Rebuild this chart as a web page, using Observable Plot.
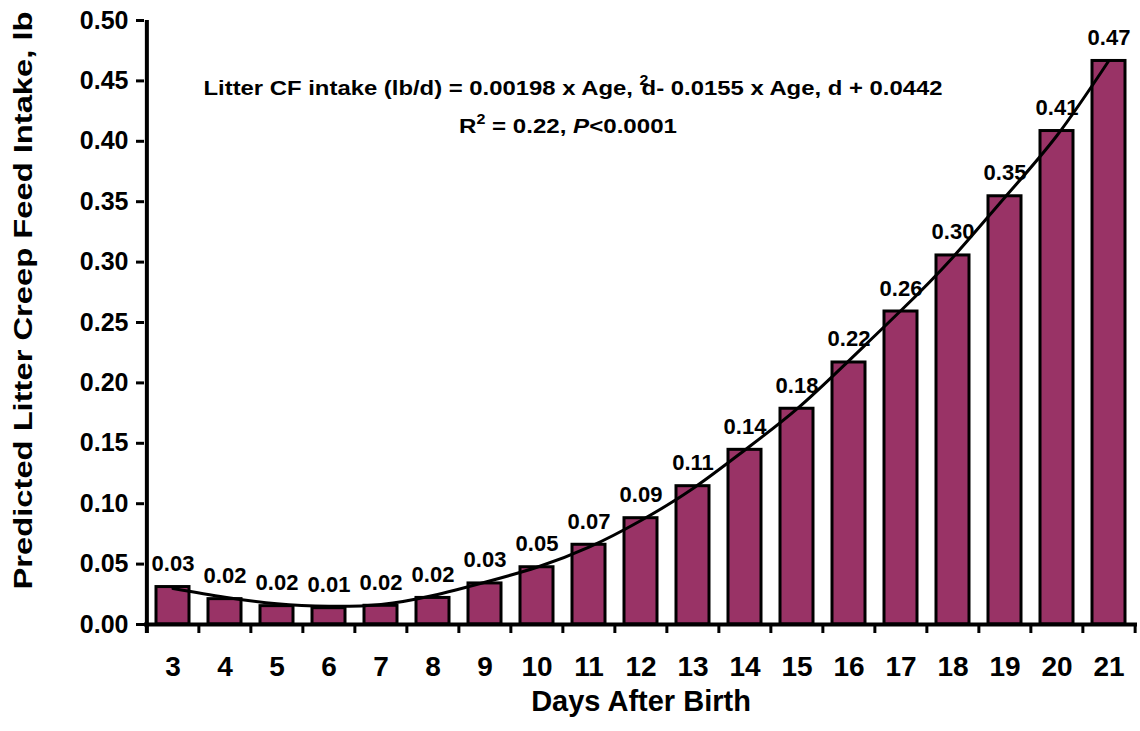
<!DOCTYPE html>
<html>
<head>
<meta charset="utf-8">
<script src="https://cdn.jsdelivr.net/npm/d3@7"></script>
<script src="https://cdn.jsdelivr.net/npm/@observablehq/plot@0.6"></script>
<style>
  html, body { margin: 0; padding: 0; background: #fff; }
  #chart svg { display: block; }
</style>
</head>
<body>
<div id="chart"></div>
<script>
// ---- data ----
const days = [3, 4, 5, 6, 7, 8, 9, 10, 11, 12, 13, 14, 15, 16, 17, 18, 19, 20, 21];
const intake = [0.031, 0.021, 0.0152, 0.0135, 0.0155, 0.022, 0.034, 0.0474, 0.066, 0.088, 0.1145, 0.1446, 0.1786, 0.2169, 0.2591, 0.3055, 0.3545, 0.4085, 0.4665];
const barLabels = ["0.03", "0.02", "0.02", "0.01", "0.02", "0.02", "0.03", "0.05", "0.07", "0.09", "0.11", "0.14", "0.18", "0.22", "0.26", "0.30", "0.35", "0.41", "0.47"];
const trend = [0.0298, 0.0226, 0.0171, 0.0151, 0.0166, 0.024, 0.035, 0.0474, 0.064, 0.0861, 0.1126, 0.1445, 0.1785, 0.2185, 0.2599, 0.3041, 0.3537, 0.4048, 0.4669];
const yTicks = [0, 0.05, 0.10, 0.15, 0.20, 0.25, 0.30, 0.35, 0.40, 0.45, 0.50];
const xTitle = "Days After Birth";
const yTitle = "Predicted Litter Creep Feed Intake, lb";
const eqLine1 = "Litter CF intake (lb/d) = 0.00198 x Age, 2d- 0.0155 x Age, d + 0.0442";
const eqLine2 = "R2 = 0.22, P<0.0001";
const eqDay = 11;
const eqY1 = 0.4437;
const eqY2 = 0.4123;

// ---- layout ----
const W = 1140, H = 731;
const mL = 144, mR = 3, mT = 20, mB = 107;
const frameH = H - mT - mB;
const step = (W - mL - mR) / days.length;
const barColor = "#993366";

const data = days.map((d, i) => ({day: d, v: intake[i], label: barLabels[i], t: trend[i]}));

const chart = Plot.plot({
  width: W,
  height: H,
  marginLeft: mL,
  marginRight: mR,
  marginTop: mT,
  marginBottom: mB,
  style: {
    fontFamily: "'Liberation Sans', Arial, Helvetica, sans-serif",
    fontWeight: "bold",
    color: "#000",
    background: "#fff",
    overflow: "visible"
  },
  x: {type: "band", domain: days, paddingInner: 0.36, paddingOuter: 0.18, axis: null},
  y: {domain: [0, 0.5], axis: null},
  marks: [
    Plot.barY(data, {x: "day", y: "v", fill: barColor, stroke: "#000", strokeWidth: 3}),
    Plot.text(data, {x: "day", y: "v", text: "label", lineAnchor: "bottom", dy: -16, fontSize: 22, fill: "#000"}),
    Plot.line(data, {x: "day", y: "t", curve: "natural", stroke: "#000", strokeWidth: 3}),
    // x axis line
    Plot.ruleY([0], {stroke: "#000", strokeWidth: 4}),
    // x axis boundary ticks
    Plot.ruleX(days, {x: d => d, dx: -step / 2, insetTop: frameH, insetBottom: -9, stroke: "#000", strokeWidth: 3}),
    Plot.ruleX([days[days.length - 1]], {x: d => d, dx: step / 2, insetTop: frameH, insetBottom: -9, stroke: "#000", strokeWidth: 3}),
    // y axis line
    Plot.ruleX([days[0]], {x: d => d, dx: -step / 2, insetBottom: -9, stroke: "#000", strokeWidth: 4}),
    Plot.axisY({ticks: yTicks, tickFormat: d3.format(".2f"), tickSize: 8, tickPadding: 8, strokeWidth: 3, fontSize: 25, label: null}),
    Plot.axisX({tickSize: 0, tickPadding: 32, fontSize: 28, label: null}),
    Plot.text([xTitle], {frameAnchor: "bottom", textAnchor: "middle", lineAnchor: "middle", dy: 77, fontSize: 29, fill: "#000"}),
    Plot.text([yTitle], {frameAnchor: "left", textAnchor: "middle", lineAnchor: "middle", dx: -121, dy: -22, rotate: -90, fontSize: 25, fill: "#000"}),
    Plot.text([eqLine1], {x: () => eqDay, y: () => eqY1, dx: -16, textAnchor: "middle", lineAnchor: "middle", fontSize: 21, fill: "#000"}),
    Plot.text([eqLine2], {x: () => eqDay, y: () => eqY2, dx: -21, textAnchor: "middle", lineAnchor: "middle", fontSize: 21, fill: "#000"})
  ]
});

document.getElementById("chart").appendChild(chart);

// ---- text refinements (stretch / superscripts / italic) ----
const root = d3.select(chart);
const yTickStrings = new Set(yTicks.map(d3.format(".2f")));
const yTickNodes = [];
root.selectAll("text").each(function () {
  const s = this.textContent;
  const t = d3.select(this);
  if (s === yTitle) {
    t.attr("textLength", 578).attr("lengthAdjust", "spacingAndGlyphs");
  } else if (s === eqLine1) {
    t.text(null);
    t.append("tspan").text("Litter CF intake (lb/d) = 0.00198 x Age, ");
    t.append("tspan").attr("font-size", 14).attr("dy", -10).text("2");
    t.append("tspan").attr("dx", -6).attr("dy", 10).text("d- 0.0155 x Age, d + 0.0442");
    t.attr("textLength", 739).attr("lengthAdjust", "spacingAndGlyphs");
  } else if (s === eqLine2) {
    t.text(null);
    t.append("tspan").text("R");
    t.append("tspan").attr("font-size", 14).attr("dy", -9).text("2");
    t.append("tspan").attr("dy", 9).text(" = 0.22, ");
    t.append("tspan").attr("font-style", "italic").text("P");
    t.append("tspan").text("<0.0001");
    t.attr("textLength", 218).attr("lengthAdjust", "spacingAndGlyphs");
  }
});
</script>
</body>
</html>
